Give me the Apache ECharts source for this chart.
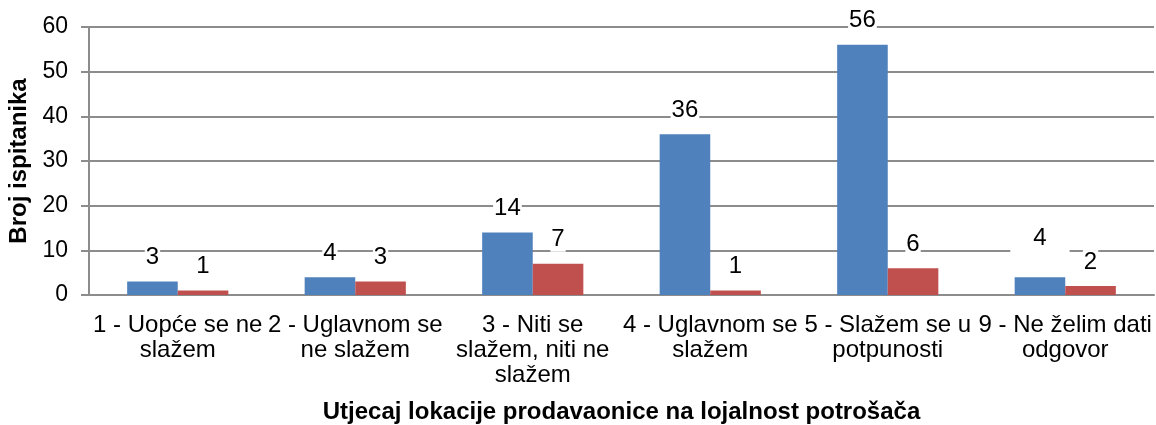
<!DOCTYPE html>
<html>
<head>
<meta charset="utf-8">
<script src="https://cdn.jsdelivr.net/npm/echarts@6/dist/echarts.min.js"></script>
<style>
  html, body { margin: 0; padding: 0; background: #fff; }
  #chart { width: 1156px; height: 425px; }
</style>
</head>
<body>
<div id="chart"></div>
<script>
// Answer categories (line breaks as shown under the axis)
const categories = [
  '1 - Uopće se ne\nslažem',
  '2 - Uglavnom se\nne slažem',
  '3 - Niti se\nslažem, niti ne\nslažem',
  '4 - Uglavnom se\nslažem',
  '5 - Slažem se u\npotpunosti',
  '9 - Ne želim dati\nodgovor'
];
// Respondent counts for the two groups
const seriesA = [3, 4, 14, 36, 56, 4];
const seriesB = [1, 3, 7, 1, 6, 2];
const yTicks = { min: 0, max: 60, interval: 10 };

const FONT = '"Liberation Sans", Arial, sans-serif';
const GRID = '#8c8c8c';

const labelBase = {
  show: true,
  position: 'top',
  distance: 12,
  color: '#000',
  fontFamily: FONT,
  fontSize: 24,
  backgroundColor: '#fff',
  padding: [0, 1]
};

const chart = echarts.init(document.getElementById('chart'), null, { renderer: 'canvas' });
chart.setOption({
  animation: false,
  backgroundColor: '#fff',
  grid: {
    left: 89, right: 2, top: 27, bottom: 130,
    containLabel: false,
    outerBoundsMode: 'none'
  },
  xAxis: {
    type: 'category',
    data: categories,
    name: 'Utjecaj lokacije prodavaonice na lojalnost potrošača',
    nameLocation: 'middle',
    nameGap: 105,
    nameTextStyle: { fontFamily: FONT, fontSize: 24, fontWeight: 'bold', color: '#000' },
    axisLine: { show: true, lineStyle: { color: GRID, width: 2 } },
    axisTick: { show: false },
    axisLabel: {
      interval: 0,
      margin: 18,
      color: '#000',
      fontFamily: FONT,
      fontSize: 24,
      lineHeight: 25,
      align: 'center'
    }
  },
  yAxis: {
    type: 'value',
    min: yTicks.min,
    max: yTicks.max,
    interval: yTicks.interval,
    name: 'Broj ispitanika',
    nameLocation: 'middle',
    nameGap: 56,
    nameRotate: 90,
    nameTextStyle: { fontFamily: FONT, fontSize: 24, fontWeight: 'bold', color: '#000' },
    axisLine: { show: true, lineStyle: { color: GRID, width: 2 } },
    axisTick: { show: true, length: 8, lineStyle: { color: GRID, width: 2 } },
    splitLine: { show: true, lineStyle: { color: GRID, width: 2 } },
    axisLabel: { color: '#000', fontFamily: FONT, fontSize: 23, margin: 21 }
  },
  series: [
    {
      type: 'bar',
      data: seriesA.map((v, i) => i === seriesA.length - 1
        ? { value: v, label: { padding: [2, 23, 4, 23], offset: [0, -11] } }
        : v),
      barGap: '0%',
      barCategoryGap: '43%',
      itemStyle: { color: '#4f81bd' },
      label: labelBase
    },
    {
      type: 'bar',
      data: seriesB,
      barGap: '0%',
      barCategoryGap: '43%',
      itemStyle: { color: '#c0504d' },
      label: labelBase
    }
  ]
});
</script>
</body>
</html>
